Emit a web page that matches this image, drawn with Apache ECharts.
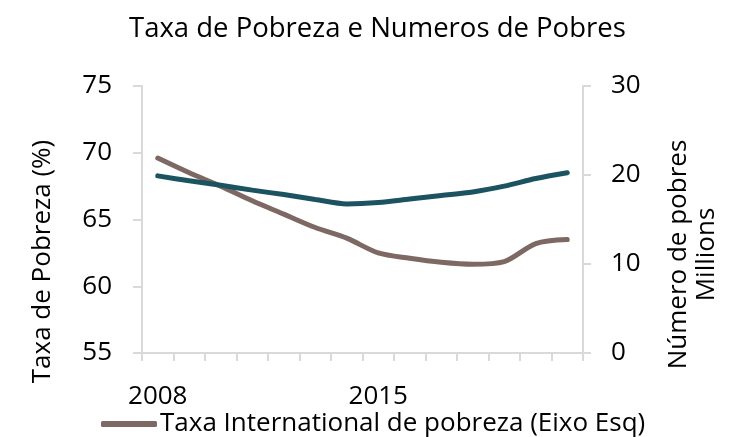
<!DOCTYPE html>
<html>
<head>
<meta charset="utf-8">
<script src="https://cdn.jsdelivr.net/npm/echarts@6/dist/echarts.min.js"></script>
<style>
html,body{margin:0;padding:0;background:#fff;}
#chart{width:735px;height:437px;}
</style>
</head>
<body>
<div id="chart"></div>
<script>
var years = ['2008','2009','2010','2011','2012','2013','2014','2015','2016','2017','2018','2019','2020','2021'];
var taxaPobreza = [69.6, 68.5, 67.5, 66.4, 65.4, 64.4, 63.6, 62.5, 62.1, 61.8, 61.65, 61.85, 63.2, 63.5];
var numeroPobres = [19.9, 19.35, 18.85, 18.3, 17.8, 17.25, 16.75, 16.9, 17.3, 17.7, 18.1, 18.75, 19.6, 20.25];
var seriesNames = ['Taxa International de pobreza (Eixo Esq)', 'Número de pobres (Eixo Dir)'];

var FONT = 'Open Sans';
var chart = echarts.init(document.getElementById('chart'), null, {renderer:'canvas'});
var axisGrey = '#d9d9d9';
chart.setOption({
  animation: false,
  textStyle: {fontFamily: FONT, color: '#000'},
  title: {
    text: 'Taxa de Pobreza e Numeros de Pobres',
    left: 124, top: 10,
    textStyle: {fontFamily: FONT, fontSize: 27.5, fontWeight: 'normal', color: '#000'}
  },
  legend: {
    data: [seriesNames[0]],
    left: 96, top: 406,
    itemWidth: 56, itemHeight: 6, itemGap: 4,
    icon: 'roundRect',
    textStyle: {fontFamily: FONT, fontSize: 26, color: '#000', padding: [0,0,0,-2]}
  },
  grid: {left: 142, right: 152, top: 86, bottom: 84},
  xAxis: {
    type: 'category',
    data: years,
    boundaryGap: true,
    axisLine: {lineStyle: {color: axisGrey, width: 2}},
    axisTick: {show: true, interval: 0, length: 8, lineStyle: {color: axisGrey, width: 2}},
    axisLabel: {interval: 6, fontSize: 26, color: '#000', margin: 31, fontFamily: FONT}
  },
  yAxis: [
    {
      type: 'value', min: 55, max: 75, interval: 5,
      name: 'Taxa de Pobreza (%)', nameLocation: 'middle', nameGap: 86,
      nameTextStyle: {fontSize: 26, color: '#000', fontFamily: FONT, padding: [0, 84, 0, 0]},
      axisLine: {show: true, lineStyle: {color: axisGrey, width: 2}},
      axisTick: {show: true, length: 9, lineStyle: {color: axisGrey, width: 2}},
      splitLine: {show: false},
      axisLabel: {fontSize: 26, color: '#000', margin: 30, fontFamily: FONT}
    },
    {
      type: 'value', min: 0, max: 30, interval: 10,
      name: 'Número de pobres\nMillions', nameLocation: 'middle', nameGap: 82,
      nameTextStyle: {fontSize: 26, color: '#000', fontFamily: FONT, lineHeight: 28, align: 'center', padding: [0, 70, 0, 0]},
      axisLine: {show: true, lineStyle: {color: axisGrey, width: 2}},
      axisTick: {show: true, length: 8, lineStyle: {color: axisGrey, width: 2}},
      splitLine: {show: false},
      axisLabel: {fontSize: 26, color: '#000', margin: 28, fontFamily: FONT}
    }
  ],
  series: [
    {
      name: seriesNames[0], type: 'line', yAxisIndex: 0,
      data: taxaPobreza, smooth: 0.3, symbol: 'none',
      lineStyle: {color: '#7e6864', width: 5, cap: 'round'},
      itemStyle: {color: '#7e6864'}
    },
    {
      name: seriesNames[1], type: 'line', yAxisIndex: 1,
      data: numeroPobres, smooth: 0.3, symbol: 'none',
      lineStyle: {color: '#1b5360', width: 5, cap: 'round'},
      itemStyle: {color: '#1b5360'}
    }
  ]
});
</script>
</body>
</html>
